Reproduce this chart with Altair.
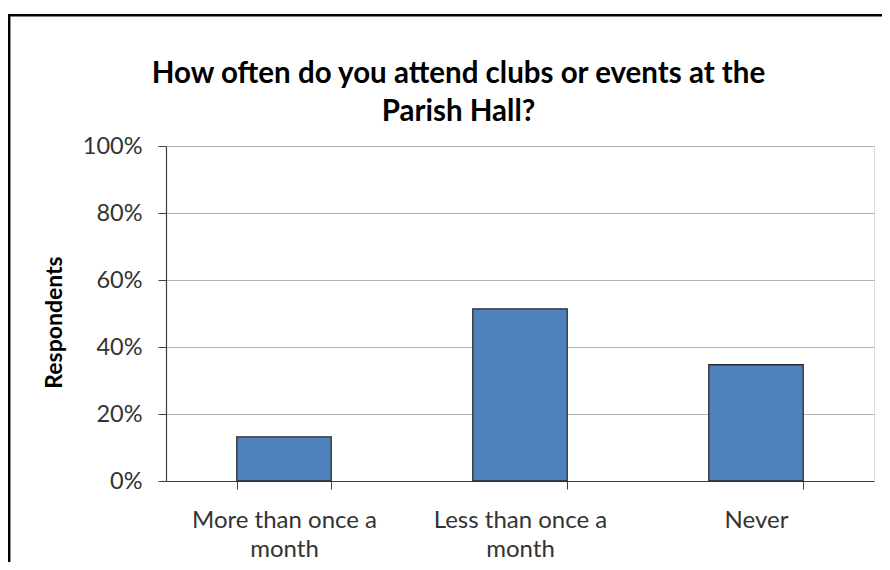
import altair as alt
import pandas as pd

categories = ["More than once a month", "Less than once a month", "Never"]
values = [0.132, 0.514, 0.347]
title_lines = ["How often do you attend clubs or events at the", "Parish Hall?"]
y_title = "Respondents"
y_ticks = [0, 0.2, 0.4, 0.6, 0.8, 1.0]

df = pd.DataFrame({"category": categories, "value": values})

FONT = "Lato"

label_expr = (
    "isString(datum.value) ? (datum.value == 'Never' ? 'Never' : "
    "[slice(datum.value, 0, length(datum.value) - 6), 'month']) : ''"
)

bars = alt.Chart(df).mark_bar(
    color="#4F81BD", stroke="#2b2b2b", strokeWidth=1.3
).encode(
    x=alt.X(
        "category:N",
        sort=categories,
        scale=alt.Scale(paddingInner=0.6, paddingOuter=0.3),
        axis=alt.Axis(
            title=None,
            labelAngle=0,
            labelFont=FONT,
            labelFontSize=24,
            labelColor="#333333",
            labelLineHeight=29,
            labelPadding=19,
            labelBaseline="top",
            labelLimit=400,
            labelExpr=label_expr,
            tickBand="extent",
            tickSize=8,
            tickColor="#404040",
            domainColor="#404040",
            domainWidth=1.2,
            grid=False,
        ),
    ),
    y=alt.Y(
        "value:Q",
        scale=alt.Scale(domain=[0, 1], nice=False),
        axis=alt.Axis(
            title=y_title,
            titleFont=FONT,
            titleFontSize=23,
            titleFontWeight="bold",
            titleColor="#000000",
            titlePadding=16,
            titleY=176,
            values=y_ticks,
            format=".0%",
            labelFont=FONT,
            labelFontSize=23.5,
            labelColor="#333333",
            labelPadding=16,
            tickSize=8,
            tickColor="#404040",
            domainColor="#404040",
            domainWidth=1.2,
            grid=True,
            gridColor="#b3b3b3",
            gridWidth=1.2,
        ),
    ),
)

frame = alt.Chart(alt.Data(values=[{"f": 1}])).mark_rect(
    fill=None, stroke="#000000", strokeWidth=2.5, clip=False
).encode(
    x=alt.value(-156.8), x2=alt.value(800),
    y=alt.value(-130.8), y2=alt.value(700),
)

chart = alt.layer(frame, bars).properties(
    width=708,
    height=335,
    padding={"left": 158, "top": 138, "right": 8, "bottom": 81},
    autosize=alt.AutoSizeParams(type="none"),
    title=alt.TitleParams(
        text=title_lines,
        font=FONT,
        fontSize=29.5,
        fontWeight="bold",
        color="#000000",
        lineHeight=38.6,
        anchor="middle",
        frame="group",
        dx=-61.5,
        offset=-114,
    ),
).configure_view(
    stroke="#868686", strokeWidth=1.2
).configure(background="white")

chart.save("out.html", embed_options={"renderer": "svg", "actions": False})
